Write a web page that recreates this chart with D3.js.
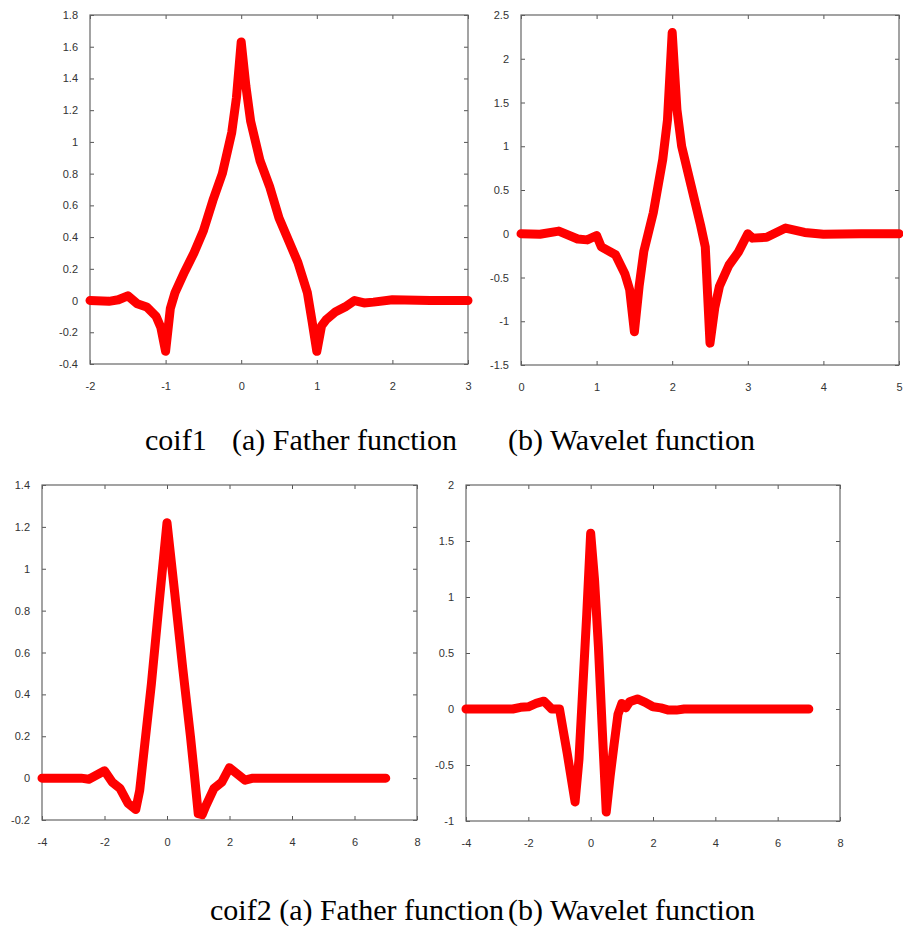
<!DOCTYPE html>
<html>
<head>
<meta charset="utf-8">
<script src="https://cdn.jsdelivr.net/npm/d3@7"></script>
<style>
  body { margin: 0; background: #fff; }
  .tick text { font-family: "Liberation Sans", Arial, sans-serif; font-size: 11px; fill: #333; }
  .caption { font-family: "Liberation Serif", "Times New Roman", serif; font-size: 30px; fill: #000; }
</style>
</head>
<body>
<div class="chart"></div>
<script>
// coif1 father function (scaling function)
var coif1PhiX = [-2, -1.75, -1.625, -1.5, -1.375, -1.25, -1.125, -1.0625, -1, -0.9375, -0.875, -0.75, -0.625, -0.5, -0.375, -0.25, -0.125, -0.0625, 0, 0.0625, 0.125, 0.25, 0.375, 0.5, 0.625, 0.75, 0.875, 0.9375, 1, 1.0625, 1.125, 1.25, 1.375, 1.5, 1.625, 1.75, 2, 2.5, 3];
var coif1PhiY = [0, -0.005, 0.005, 0.03, -0.02, -0.04, -0.1, -0.17, -0.32, -0.05, 0.05, 0.18, 0.3, 0.44, 0.63, 0.8, 1.06, 1.28, 1.63, 1.35, 1.13, 0.88, 0.72, 0.52, 0.38, 0.24, 0.05, -0.13, -0.32, -0.16, -0.12, -0.07, -0.04, 0, -0.015, -0.01, 0.005, 0, 0];

// coif1 wavelet function
var coif1PsiX = [0, 0.25, 0.5, 0.75, 0.875, 1, 1.0625, 1.25, 1.375, 1.4375, 1.5, 1.5625, 1.625, 1.75, 1.875, 1.9375, 2, 2.0625, 2.125, 2.25, 2.375, 2.4375, 2.5, 2.5625, 2.625, 2.75, 2.875, 3, 3.0625, 3.25, 3.5, 3.75, 4, 4.5, 5];
var coif1PsiY = [0, -0.005, 0.03, -0.06, -0.07, -0.02, -0.15, -0.24, -0.46, -0.64, -1.12, -0.6, -0.2, 0.24, 0.85, 1.3, 2.3, 1.42, 1.0, 0.55, 0.1, -0.15, -1.25, -0.85, -0.6, -0.36, -0.21, 0, -0.05, -0.04, 0.065, 0.015, -0.005, 0, 0];

// coif2 father function
var coif2PhiX = [-4, -3, -2.75, -2.5, -2.25, -2, -1.75, -1.5, -1.25, -1, -0.875, -0.5, -0.25, 0, 0.25, 0.5, 0.75, 0.875, 1, 1.125, 1.25, 1.5, 1.75, 2, 2.25, 2.5, 2.75, 3, 4, 5, 6, 7];
var coif2PhiY = [0, 0, 0, -0.005, 0.015, 0.035, -0.02, -0.05, -0.12, -0.15, -0.06, 0.45, 0.84, 1.22, 0.88, 0.53, 0.2, 0.02, -0.17, -0.175, -0.13, -0.05, -0.02, 0.05, 0.02, -0.01, 0, 0, 0, 0, 0, 0];

// coif2 wavelet function
var coif2PsiX = [-4, -3, -2.5, -2.25, -2, -1.75, -1.5, -1.25, -1, -0.875, -0.75, -0.5, -0.375, -0.25, -0.125, 0, 0.125, 0.25, 0.375, 0.5, 0.625, 0.75, 0.875, 1, 1.125, 1.25, 1.5, 1.75, 2, 2.25, 2.5, 2.75, 3, 4, 5, 6, 7];
var coif2PsiY = [0, 0, 0, 0.015, 0.02, 0.05, 0.07, 0, 0, -0.2, -0.4, -0.83, -0.45, 0.2, 0.85, 1.57, 1.15, 0.55, -0.2, -0.92, -0.6, -0.32, -0.05, 0.05, 0.01, 0.065, 0.09, 0.06, 0.02, 0.01, -0.01, -0.01, 0, 0, 0, 0, 0];

// tick labels
var coif1PhiXTicks = [-2, -1, 0, 1, 2, 3];
var coif1PhiYTicks = [-0.4, -0.2, 0, 0.2, 0.4, 0.6, 0.8, 1, 1.2, 1.4, 1.6, 1.8];
var coif1PsiXTicks = [0, 1, 2, 3, 4, 5];
var coif1PsiYTicks = [-1.5, -1, -0.5, 0, 0.5, 1, 1.5, 2, 2.5];
var coif2PhiXTicks = [-4, -2, 0, 2, 4, 6, 8];
var coif2PhiYTicks = [-0.2, 0, 0.2, 0.4, 0.6, 0.8, 1, 1.2, 1.4];
var coif2PsiXTicks = [-4, -2, 0, 2, 4, 6, 8];
var coif2PsiYTicks = [-1, -0.5, 0, 0.5, 1, 1.5, 2];

var captions = [
  { text: "coif1", x: 145, y: 450 },
  { text: "(a) Father function", x: 232, y: 450 },
  { text: "(b) Wavelet function", x: 508, y: 450 },
  { text: "coif2 (a) Father function", x: 210, y: 920 },
  { text: "(b) Wavelet function", x: 508, y: 920 }
];

var svg = d3.select(".chart")
  .append("svg")
  .attr("width", 903)
  .attr("height", 926);

var panels = [
  { xs: coif1PhiX, ys: coif1PhiY, xt: coif1PhiXTicks, yt: coif1PhiYTicks, left: 90, top: 15, width: 378, height: 349 },
  { xs: coif1PsiX, ys: coif1PsiY, xt: coif1PsiXTicks, yt: coif1PsiYTicks, left: 521, top: 15, width: 378, height: 350 },
  { xs: coif2PhiX, ys: coif2PhiY, xt: coif2PhiXTicks, yt: coif2PhiYTicks, left: 42, top: 485, width: 375, height: 335 },
  { xs: coif2PsiX, ys: coif2PsiY, xt: coif2PsiXTicks, yt: coif2PsiYTicks, left: 466, top: 485, width: 374, height: 336 }
];

var fmt = function(d) { return String(+d.toFixed(2)); };

panels.forEach(function(p) {
  var g = svg.append("g")
    .attr("transform", "translate(" + p.left + "," + p.top + ")");

  var x = d3.scaleLinear()
    .domain(d3.extent(p.xt))
    .range([0, p.width]);
  var y = d3.scaleLinear()
    .domain(d3.extent(p.yt))
    .range([p.height, 0]);

  // bottom / left axes with labels, ticks pointing inward
  g.append("g")
    .attr("transform", "translate(0," + p.height + ")")
    .call(d3.axisBottom(x).tickValues(p.xt).tickSize(-4).tickPadding(18).tickFormat(fmt));
  g.append("g")
    .call(d3.axisLeft(y).tickValues(p.yt).tickSize(-4).tickPadding(12).tickFormat(fmt));
  // mirrored ticks on top / right
  g.append("g")
    .call(d3.axisTop(x).tickValues(p.xt).tickSize(-4).tickFormat(""));
  g.append("g")
    .attr("transform", "translate(" + p.width + ",0)")
    .call(d3.axisRight(y).tickValues(p.yt).tickSize(-4).tickFormat(""));

  g.selectAll(".domain").remove();
  g.selectAll(".tick line").attr("stroke", "#555");

  g.append("rect")
    .attr("width", p.width)
    .attr("height", p.height)
    .attr("fill", "none")
    .attr("stroke", "#666")
    .attr("stroke-width", 1.2);

  var pts = p.xs.map(function(v, i) { return [v, p.ys[i]]; });

  var line = d3.line()
    .x(function(d) { return x(d[0]); })
    .y(function(d) { return y(d[1]); });

  g.append("path")
    .datum(pts)
    .attr("d", line)
    .attr("fill", "none")
    .attr("stroke", "#ff0000")
    .attr("stroke-width", 9)
    .attr("stroke-linejoin", "round")
    .attr("stroke-linecap", "round");
});

svg.selectAll(".caption")
  .data(captions)
  .enter().append("text")
    .attr("class", "caption")
    .attr("x", function(d) { return d.x; })
    .attr("y", function(d) { return d.y; })
    .text(function(d) { return d.text; });
</script>
</body>
</html>
